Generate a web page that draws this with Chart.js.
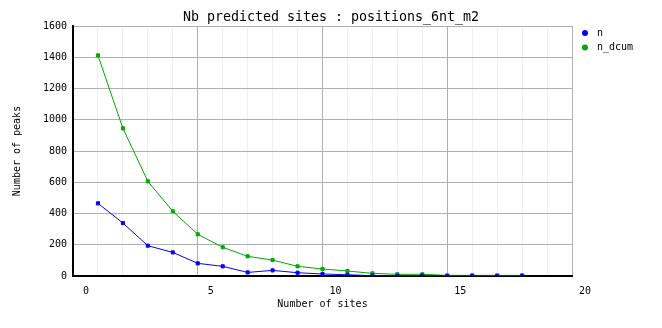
<!DOCTYPE html>
<html>
<head>
<meta charset="utf-8">
<script src="https://cdn.jsdelivr.net/npm/chart.js@4"></script>
<style>
  html, body { margin: 0; padding: 0; background: #fff; }
  #wrap { width: 662px; height: 328px; }
</style>
</head>
<body>
<div id="wrap"><canvas id="chart" width="662" height="328"></canvas></div>
<script>
// données
const sites = [1, 2, 3, 4, 5, 6, 7, 8, 9, 10, 11, 12, 13, 14, 15, 16, 17, 18];
const nVals = [465, 339, 194, 151, 81, 62, 23, 36, 21, 13, 8, 2, 1, 2, 0, 1, 0, 1];
const nDcumVals = [1412, 945, 606, 414, 267, 184, 126, 102, 62, 45, 32, 17, 11, 11, 4, 4, 4, 4];
const seriesNames = ['n', 'n_dcum'];
const seriesColors = ['#0000ff', '#00aa00'];
const yTicks = [0, 200, 400, 600, 800, 1000, 1200, 1400, 1600];
const chartTitle = 'Nb predicted sites : positions_6nt_m2';

const mono = 'DejaVu Sans Mono';

function toPoints(vals) {
    return sites.map((x, i) => ({ x: x, y: vals[i] }));
}

// titre centré sur la page + légende à droite
const decor = {
    id: 'decor',
    afterDraw(chart) {
        const ctx = chart.ctx;
        ctx.save();
        ctx.fillStyle = '#000';
        ctx.font = '13.3px "' + mono + '"';
        ctx.textAlign = 'center';
        ctx.textBaseline = 'middle';
        ctx.fillText(chartTitle, chart.width / 2, 18);

        ctx.font = '10px "' + mono + '"';
        ctx.textAlign = 'left';
        chart.data.datasets.forEach((ds, i) => {
            const y = 33 + i * 14.5;
            ctx.fillStyle = ds.borderColor;
            ctx.beginPath();
            ctx.arc(585, y, 3, 0, Math.PI * 2);
            ctx.fill();
            ctx.fillStyle = '#000';
            ctx.fillText(ds.label, 597, y);
        });
        ctx.restore();
    }
};

new Chart(document.getElementById('chart'), {
    type: 'line',
    data: {
        datasets: [nVals, nDcumVals].map((vals, i) => ({
            label: seriesNames[i],
            data: toPoints(vals),
            borderColor: seriesColors[i],
            backgroundColor: seriesColors[i],
            borderWidth: 1,
            pointStyle: 'rect',
            pointRadius: 2.2,
            tension: 0,
            fill: false
        }))
    },
    options: {
        responsive: false,
        animation: false,
        layout: { padding: { left: 0, right: 90, top: 26, bottom: 0 } },
        plugins: {
            legend: { display: false },
            tooltip: { enabled: false },
            title: { display: false }
        },
        scales: {
            x: {
                type: 'linear',
                min: 0,
                max: 20,
                afterFit: s => { s.height = 52; },
                border: { color: '#000', width: 2 },
                grid: {
                    drawTicks: false,
                    color: c => (c.tick && c.tick.value % 5 === 0) ? '#b0b0b0' : '#efefef'
                },
                ticks: {
                    stepSize: 1,
                    autoSkip: false,
                    maxRotation: 0,
                    labelOffset: 13,
                    padding: 9,
                    color: '#000',
                    font: { family: mono, size: 10 },
                    callback: v => (v % 5 === 0 ? String(v) : '')
                },
                title: {
                    display: true,
                    text: 'Number of sites',
                    color: '#000',
                    font: { family: mono, size: 10 },
                    padding: { top: 0, bottom: 18 }
                }
            },
            y: {
                min: yTicks[0],
                max: yTicks[yTicks.length - 1],
                afterFit: s => { s.width = 73; },
                border: { color: '#000', width: 2 },
                grid: { drawTicks: false, color: '#b0b0b0' },
                ticks: {
                    stepSize: 200,
                    padding: 6,
                    color: '#000',
                    font: { family: mono, size: 10 },
                    callback: v => String(v)
                },
                title: {
                    display: true,
                    text: 'Number of peaks',
                    color: '#000',
                    font: { family: mono, size: 10 },
                    padding: { top: 11, bottom: 0 }
                }
            }
        }
    },
    plugins: [decor]
});
</script>
</body>
</html>
